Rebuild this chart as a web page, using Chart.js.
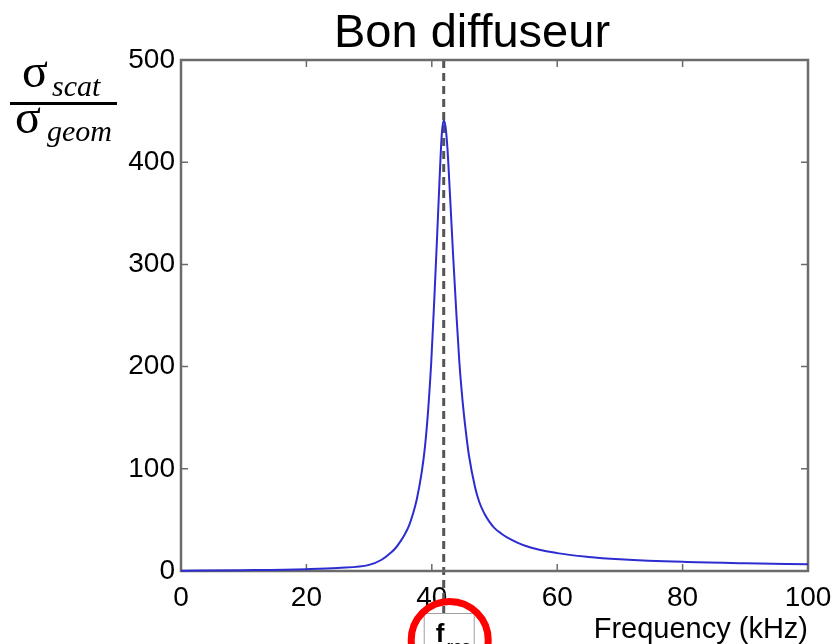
<!DOCTYPE html>
<html>
<head>
<meta charset="utf-8">
<script src="https://cdn.jsdelivr.net/npm/chart.js@4"></script>
<style>
  html, body { margin: 0; padding: 0; background: #fff; }
  #wrap { width: 836px; height: 644px; }
</style>
</head>
<body>
<div id="wrap"><canvas id="chart" width="836" height="644"></canvas></div>
<script>
// Values
const freqKHz = [0, 10, 20, 25, 30, 32, 33.5, 34.3, 35, 35.7, 36.4, 37, 37.6, 38.4, 38.9, 39.4, 39.9, 40.4, 40.9, 41.3, 41.6, 41.9,
                 42.2, 42.5, 42.9, 43.4, 43.9, 44.4, 44.9, 45.4, 45.9, 46.9, 47.6, 48.4, 49.2, 50, 51, 52, 55, 60, 65, 70, 80, 90, 100];
const sigmaRatio = [0.3, 0.8, 1.8, 3, 6, 11, 18, 23, 29, 36, 45, 56, 70, 97, 121, 156, 203, 266, 335, 392, 428, 441,
                    434, 413, 368, 309, 254, 204, 167, 138, 114, 82, 67, 56, 48, 42, 37, 33, 24.5, 17.5, 13.8, 11.6, 9, 7.6, 6.5];
const xTicks = [0, 20, 40, 60, 80, 100];
const yTicks = [0, 100, 200, 300, 400, 500];
const fRes = 41.9; // resonance frequency, dashed marker

const chartTitle = 'Bon diffuseur';
const xTitle = 'Frequency (kHz)';

const axisGrey = '#6b6b6b';
const sansFont = "'Liberation Sans', Arial, Helvetica, sans-serif";
const serifFont = "'Liberation Serif', 'Times New Roman', serif";

// frame, inward ticks, title, y label fraction, resonance marker
const decorations = {
    id: 'decorations',
    beforeDatasetsDraw(chart) {
        const ctx = chart.ctx;
        const a = chart.chartArea;
        const xs = chart.scales.x, ys = chart.scales.y;
        ctx.save();
        // dashed resonance line
        const xr = xs.getPixelForValue(fRes);
        ctx.strokeStyle = '#555';
        ctx.lineWidth = 3;
        ctx.setLineDash([8, 5]);
        ctx.beginPath();
        ctx.moveTo(xr, a.top);
        ctx.lineTo(xr, 614);
        ctx.stroke();
        ctx.setLineDash([]);

        // box frame
        ctx.strokeStyle = axisGrey;
        ctx.lineWidth = 2.5;
        ctx.strokeRect(a.left, a.top, a.right - a.left, a.bottom - a.top);
        // inward ticks
        ctx.lineWidth = 1.5;
        const tl = 7;
        ctx.beginPath();
        xTicks.slice(1, -1).forEach(v => {
            const px = xs.getPixelForValue(v);
            ctx.moveTo(px, a.bottom); ctx.lineTo(px, a.bottom - tl);
            ctx.moveTo(px, a.top); ctx.lineTo(px, a.top + tl);
        });
        yTicks.slice(1, -1).forEach(v => {
            const py = ys.getPixelForValue(v);
            ctx.moveTo(a.left, py); ctx.lineTo(a.left + tl, py);
            ctx.moveTo(a.right, py); ctx.lineTo(a.right - tl, py);
        });
        ctx.stroke();
        ctx.restore();
    },
    afterDraw(chart) {
        const ctx = chart.ctx;
        const xs = chart.scales.x;
        ctx.save();
        // title
        ctx.fillStyle = '#000';
        ctx.font = '47px ' + sansFont;
        ctx.textAlign = 'center';
        ctx.textBaseline = 'alphabetic';
        ctx.fillText(chartTitle, 472, 47);

        // y label: sigma_scat / sigma_geom
        ctx.textAlign = 'left';
        ctx.font = '48px ' + serifFont;
        ctx.fillText('σ', 22, 87);
        ctx.fillText('σ', 15, 133);
        ctx.font = 'italic 30px ' + serifFont;
        ctx.fillText('scat', 52, 96);
        ctx.fillText('geom', 47, 141);
        ctx.fillRect(10, 102, 107, 3);

        // f_res box and red circle
        const xr = xs.getPixelForValue(fRes);
        ctx.fillStyle = '#fff';
        ctx.fillRect(xr - 19, 613, 50, 40);
        ctx.strokeStyle = '#a0a0a0';
        ctx.lineWidth = 1;
        ctx.strokeRect(xr - 19.5, 613.5, 50, 40);
        ctx.fillStyle = '#000';
        ctx.font = 'bold 26px ' + sansFont;
        ctx.fillText('f', xr - 8, 642);
        ctx.font = 'bold 16px ' + sansFont;
        ctx.fillText('res', xr + 3, 652);
        ctx.strokeStyle = '#ff0000';
        ctx.lineWidth = 7;
        ctx.beginPath();
        ctx.arc(xr + 6, 640, 38.5, 0, Math.PI * 2);
        ctx.stroke();
        ctx.restore();
    }
};

new Chart(document.getElementById('chart'), {
    type: 'line',
    data: {
        datasets: [{
            data: freqKHz.map((f, i) => ({ x: f, y: sigmaRatio[i] })),
            borderColor: '#2c2cd0',
            borderWidth: 2,
            pointRadius: 0,
            cubicInterpolationMode: 'monotone',
            fill: false,
            clip: 4
        }]
    },
    options: {
        responsive: false,
        animation: false,
        devicePixelRatio: 1,
        layout: { padding: { top: 60, right: 28, left: 0, bottom: 0 } },
        plugins: {
            legend: { display: false },
            tooltip: { enabled: false },
            title: { display: false }
        },
        scales: {
            x: {
                type: 'linear',
                min: 0,
                max: 100,
                afterFit: s => { s.height = 73; s.paddingLeft = 0; s.paddingRight = 0; },
                afterBuildTicks: s => { s.ticks = xTicks.map(v => ({ value: v })); },
                grid: { display: false, drawTicks: false },
                border: { display: false },
                ticks: {
                    padding: 10,
                    maxRotation: 0,
                    color: '#000',
                    font: { family: sansFont, size: 28 }
                },
                title: {
                    display: true,
                    text: xTitle,
                    align: 'end',
                    color: '#000',
                    padding: { top: 0, bottom: -0.5 },
                    font: { family: sansFont, size: 29, lineHeight: 1 }
                }
            },
            y: {
                type: 'linear',
                min: 0,
                max: 500,
                afterFit: s => { s.width = 181; s.paddingTop = 0; s.paddingBottom = 0; },
                afterBuildTicks: s => { s.ticks = yTicks.map(v => ({ value: v })); },
                grid: { display: false, drawTicks: false },
                border: { display: false },
                ticks: {
                    padding: 6,
                    color: '#000',
                    font: { family: sansFont, size: 28 }
                }
            }
        }
    },
    plugins: [decorations]
});
</script>
</body>
</html>
